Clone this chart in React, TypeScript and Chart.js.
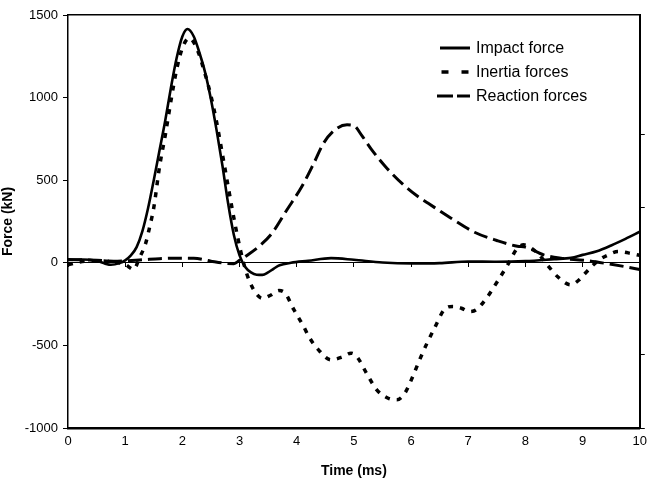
import React, { useEffect, useRef } from "react";
import { Chart, registerables } from "chart.js";

Chart.register(...registerables);

// Time base (ms) and force (kN) for each measured signal
const impactTime = [0, 0.25, 0.5, 0.65, 0.75, 0.9, 1.0, 1.1, 1.2, 1.3, 1.4, 1.5, 1.6, 1.7, 1.8, 1.9, 2.0, 2.09, 2.2, 2.3, 2.4, 2.5, 2.6, 2.7, 2.8, 2.9, 3.0, 3.1, 3.2, 3.3, 3.4, 3.5, 3.6, 3.7, 3.9, 4.2, 4.6, 5.0, 5.5, 6.0, 6.5, 7.0, 7.5, 8.0, 8.5, 8.8, 9.0, 9.25, 9.5, 9.75, 10];
const impactForce = [18, 20, 12, -5, -12, -2, 15, 45, 95, 190, 330, 500, 680, 860, 1060, 1240, 1370, 1415, 1370, 1270, 1150, 990, 800, 590, 360, 170, 45, -25, -58, -72, -73, -58, -35, -15, 0, 12, 28, 18, 2, -4, -2, 8, 6, 10, 22, 30, 48, 70, 105, 145, 188];

const inertiaTime = [0, 0.2, 0.5, 0.8, 1.0, 1.15, 1.25, 1.36, 1.43, 1.5, 1.6, 1.7, 1.8, 1.9, 2.0, 2.12, 2.25, 2.4, 2.5, 2.6, 2.73, 2.88, 2.97, 3.07, 3.17, 3.3, 3.4, 3.55, 3.69, 3.8, 3.95, 4.12, 4.21, 4.38, 4.6, 4.8, 4.95, 5.05, 5.22, 5.4, 5.6, 5.75, 5.89, 6.03, 6.15, 6.28, 6.41, 6.58, 6.73, 6.88, 7.02, 7.14, 7.34, 7.51, 7.69, 7.86, 7.97, 8.1, 8.24, 8.4, 8.56, 8.79, 8.95, 9.05, 9.19, 9.3, 9.45, 9.62, 9.8, 10];
const inertiaForce = [-12, 5, 12, 5, -10, -40, 30, 120, 220, 333, 580, 770, 980, 1170, 1300, 1360, 1300, 1140, 1010, 850, 600, 310, 150, 0, -108, -190, -215, -195, -168, -185, -284, -385, -446, -527, -587, -570, -547, -567, -668, -769, -820, -829, -790, -688, -587, -486, -395, -284, -264, -275, -295, -284, -204, -113, -12, 89, 109, 90, 48, -20, -83, -133, -100, -62, -12, 20, 48, 68, 60, 45];

const reactionTime = [0, 0.5, 0.8, 1.0, 1.3, 1.6, 1.9, 2.2, 2.5, 2.75, 2.9, 3.0, 3.1, 3.34, 3.57, 3.83, 4.09, 4.3, 4.47, 4.67, 4.88, 5.0, 5.14, 5.3, 5.55, 5.9, 6.12, 6.3, 6.7, 7.11, 7.5, 7.86, 8.0, 8.32, 8.62, 9.02, 9.37, 9.72, 10];
const reactionForce = [20, 15, 10, 12, 18, 25, 28, 28, 10, -3, -5, 15, 38, 99, 180, 321, 462, 603, 724, 805, 835, 830, 770, 690, 583, 462, 401, 360, 270, 185, 135, 100, 95, 48, 28, 15, -2, -22, -40];

const seriesLabels = ["Impact force", "Inertia forces", "Reaction forces"];

// Axis ticks
const timeTicks = [0, 1, 2, 3, 4, 5, 6, 7, 8, 9, 10];
const forceTicks = [-1000, -500, 0, 500, 1000, 1500];
const rightAxisMarks = [-1000, -557, 333, 775];

const FONT = '"Liberation Sans", Arial, Helvetica, sans-serif';

const toPoints = (xs: number[], ys: number[]) => xs.map((x, i) => ({ x, y: ys[i] }));
const plainNumber = (v: number | string) => String(v);

// Legend drawn inside the plot area, top right
const legendStyles = [
  { dash: [] as number[], start: 372, end: 402, width: 3 },
  { dash: [7, 13], start: 373.5, end: 401, width: 3.5 },
  { dash: [16, 4], start: 369, end: 402, width: 3 },
];

const insideLegend = {
  id: "insideLegend",
  afterDatasetsDraw(chart: any) {
    const { ctx, chartArea } = chart;
    ctx.save();
    ctx.font = `16px ${FONT}`;
    ctx.textBaseline = "middle";
    ctx.fillStyle = "#000";
    ctx.strokeStyle = "#000";
    chart.data.datasets.forEach((ds: any, i: number) => {
      const st = legendStyles[i];
      const y = chartArea.top + 33 + i * 24;
      ctx.beginPath();
      ctx.setLineDash(st.dash);
      ctx.lineWidth = st.width;
      ctx.moveTo(chartArea.left + st.start, y);
      ctx.lineTo(chartArea.left + st.end, y);
      ctx.stroke();
      ctx.setLineDash([]);
      ctx.fillText(ds.label, chartArea.left + 408, y + 1);
    });
    ctx.restore();
  },
};

export default function App() {
  const canvasRef = useRef<HTMLCanvasElement>(null);

  useEffect(() => {
    if (!canvasRef.current) return;
    const chart = new Chart(canvasRef.current, {
      type: "line",
      data: {
        datasets: [
          {
            label: seriesLabels[0],
            data: toPoints(impactTime, impactForce),
            borderColor: "#000",
            borderWidth: 2.6,
            pointRadius: 0,
            cubicInterpolationMode: "monotone",
            fill: false,
          },
          {
            label: seriesLabels[1],
            data: toPoints(inertiaTime, inertiaForce),
            borderColor: "#000",
            borderWidth: 3.5,
            borderDash: [5, 7],
            pointRadius: 0,
            cubicInterpolationMode: "monotone",
            fill: false,
          },
          {
            label: seriesLabels[2],
            data: toPoints(reactionTime, reactionForce),
            borderColor: "#000",
            borderWidth: 3,
            borderDash: [14, 6],
            pointRadius: 0,
            cubicInterpolationMode: "monotone",
            fill: false,
          },
        ],
      },
      options: {
        animation: false,
        responsive: true,
        maintainAspectRatio: false,
        layout: { padding: 0 },
        plugins: {
          legend: { display: false },
          tooltip: { enabled: false },
        },
        scales: {
          x: {
            type: "linear",
            position: "bottom",
            min: 0,
            max: 10,
            afterBuildTicks: (s: any) => {
              s.ticks = timeTicks.map((v) => ({ value: v }));
            },
            ticks: {
              color: "#000",
              font: { family: FONT, size: 13 },
              padding: 6,
              maxRotation: 0,
              callback: plainNumber,
            },
            grid: { drawOnChartArea: false, drawTicks: false },
            border: { color: "#000", width: 2.5 },
            title: {
              display: true,
              text: "Time (ms)",
              color: "#000",
              font: { family: FONT, size: 14, weight: "bold" },
              padding: { top: 0, bottom: 2 },
            },
            afterFit: (s: any) => {
              s.height = 54;
            },
          },
          xZero: {
            type: "linear",
            axis: "x",
            position: { y: 0 },
            min: 0,
            max: 10,
            afterBuildTicks: (s: any) => {
              s.ticks = timeTicks.map((v) => ({ value: v }));
            },
            ticks: { display: false },
            grid: { drawOnChartArea: false, drawTicks: true, tickLength: 4, color: "#000", lineWidth: 1 },
            border: { color: "#000", width: 1 },
          },
          xTop: {
            type: "linear",
            axis: "x",
            position: "top",
            min: 0,
            max: 10,
            ticks: { display: false },
            grid: { display: false },
            border: { color: "#000", width: 1.5 },
            afterFit: (s: any) => {
              s.height = 15;
            },
          },
          y: {
            type: "linear",
            position: "left",
            min: -1000,
            max: 1500,
            afterBuildTicks: (s: any) => {
              s.ticks = forceTicks.map((v) => ({ value: v }));
            },
            ticks: {
              color: "#000",
              font: { family: FONT, size: 13 },
              padding: 5,
              callback: plainNumber,
            },
            grid: { drawOnChartArea: false, drawTicks: true, tickLength: 5, color: "#000", lineWidth: 1 },
            border: { color: "#000", width: 1.5 },
            title: {
              display: true,
              text: "Force (kN)",
              color: "#000",
              font: { family: FONT, size: 14, weight: "bold" },
              padding: 0,
            },
            afterFit: (s: any) => {
              s.width = 68;
            },
          },
          yRight: {
            type: "linear",
            axis: "y",
            position: "right",
            min: -1000,
            max: 1500,
            afterBuildTicks: (s: any) => {
              s.ticks = rightAxisMarks.map((v) => ({ value: v }));
            },
            ticks: { display: false },
            grid: { drawOnChartArea: false, drawTicks: true, tickLength: 5, color: "#000", lineWidth: 1 },
            border: { color: "#000", width: 2 },
            afterFit: (s: any) => {
              s.width = 10;
            },
          },
        },
      },
      plugins: [insideLegend],
    } as any);
    return () => chart.destroy();
  }, []);

  return (
    <div style={{ position: "fixed", left: 0, top: 0, width: 653, height: 482, background: "#fff" }}>
      <canvas ref={canvasRef} />
    </div>
  );
}
